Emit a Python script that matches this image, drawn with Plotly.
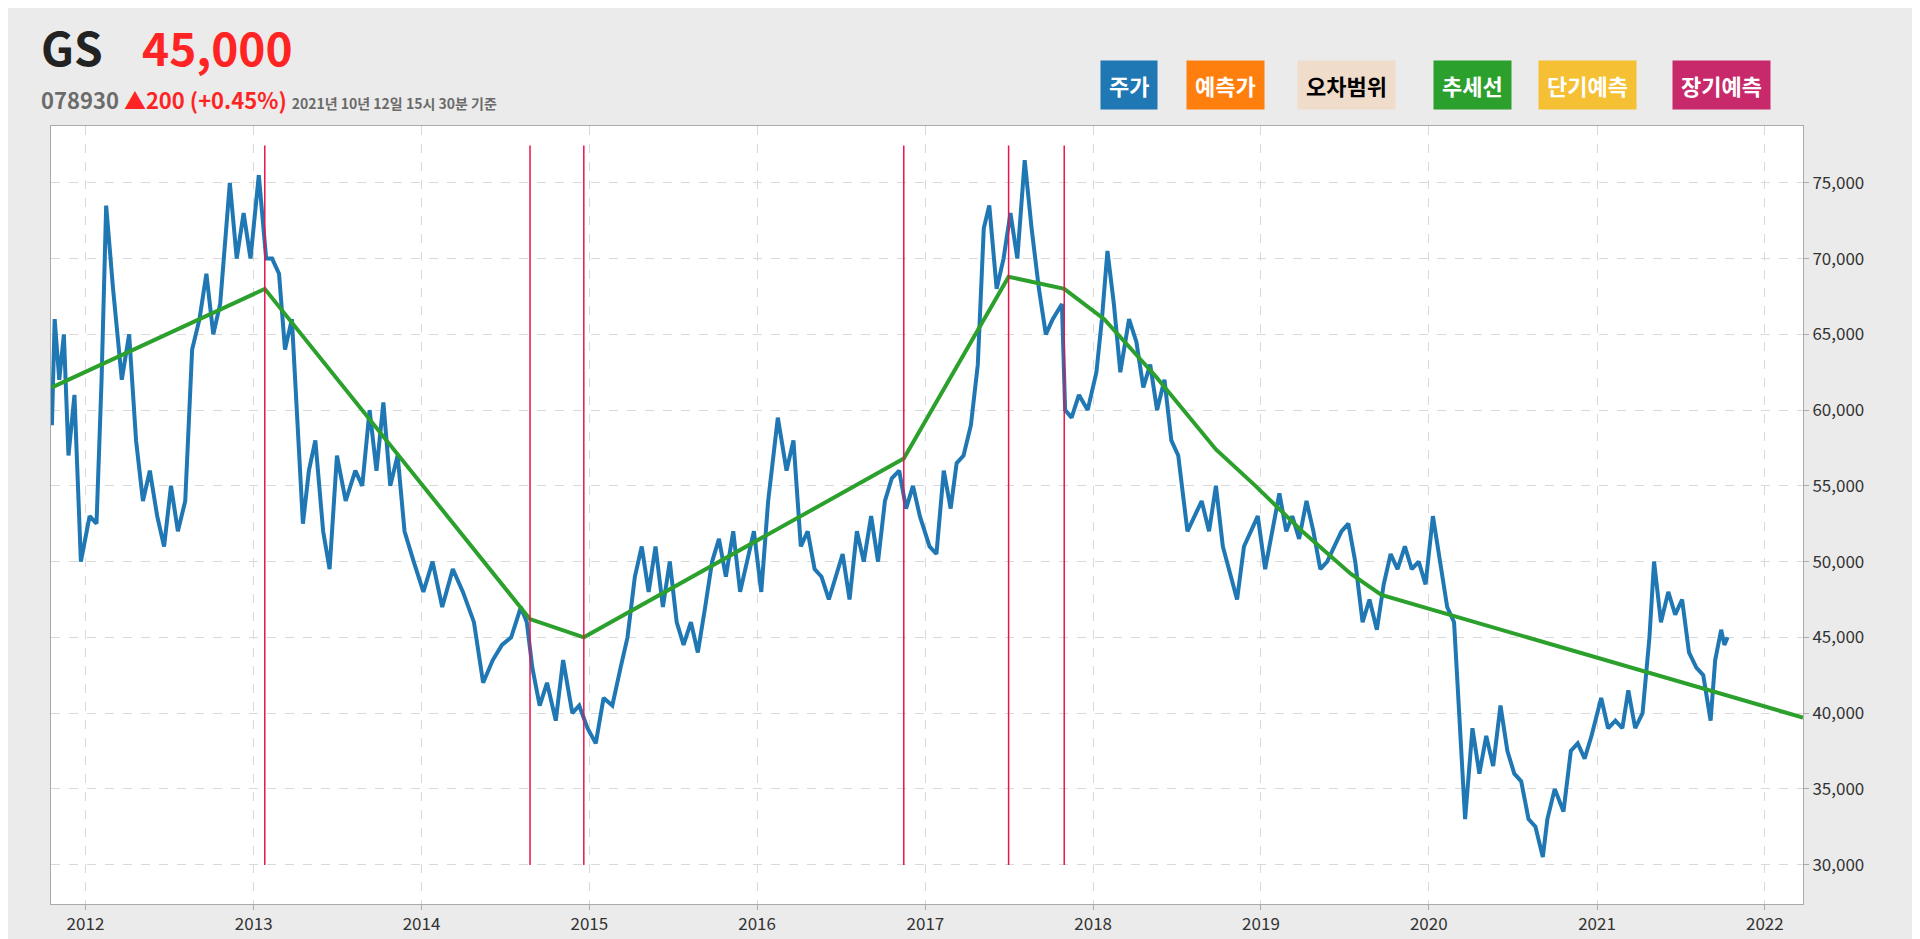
import plotly.graph_objects as go

# --- data ---
price_dates = [
    "2011-10-20", "2011-10-26", "2011-11-05", "2011-11-15", "2011-11-25", "2011-12-08", "2011-12-22",
    "2012-01-10", "2012-01-25", "2012-02-05", "2012-02-15", "2012-03-01", "2012-03-20", "2012-04-05",
    "2012-04-20", "2012-05-05", "2012-05-20", "2012-06-05", "2012-06-20", "2012-07-05", "2012-07-20",
    "2012-08-05", "2012-08-20", "2012-09-05", "2012-09-20", "2012-10-05", "2012-10-20", "2012-11-10",
    "2012-11-25", "2012-12-10", "2012-12-25", "2013-01-12", "2013-01-28", "2013-02-10", "2013-02-25",
    "2013-03-10", "2013-03-25", "2013-04-05", "2013-04-18", "2013-05-01", "2013-05-15", "2013-06-01",
    "2013-06-15", "2013-07-01", "2013-07-20", "2013-08-10", "2013-08-25", "2013-09-10", "2013-09-25",
    "2013-10-10", "2013-10-25", "2013-11-10", "2013-11-25", "2013-12-15", "2014-01-05", "2014-01-25",
    "2014-02-15", "2014-03-10", "2014-04-01", "2014-04-25", "2014-05-15", "2014-06-05", "2014-06-25",
    "2014-07-15", "2014-08-05", "2014-08-18", "2014-08-30", "2014-09-15", "2014-10-01", "2014-10-20",
    "2014-11-05", "2014-11-25", "2014-12-10", "2014-12-28", "2015-01-15", "2015-02-01", "2015-02-20",
    "2015-03-10", "2015-03-25", "2015-04-10", "2015-04-25", "2015-05-10", "2015-05-25", "2015-06-10",
    "2015-06-25", "2015-07-10", "2015-07-25", "2015-08-10", "2015-08-25", "2015-09-10", "2015-09-25",
    "2015-10-10", "2015-10-25", "2015-11-10", "2015-11-25", "2015-12-10", "2015-12-25", "2016-01-10",
    "2016-01-25", "2016-02-15", "2016-03-05", "2016-03-20", "2016-04-05", "2016-04-20", "2016-05-05",
    "2016-05-20", "2016-06-05", "2016-06-20", "2016-07-05", "2016-07-20", "2016-08-05", "2016-08-20",
    "2016-09-05", "2016-09-20", "2016-10-05", "2016-10-20", "2016-11-05", "2016-11-20", "2016-12-05",
    "2016-12-20", "2017-01-10", "2017-01-25", "2017-02-10", "2017-02-25", "2017-03-10", "2017-03-25",
    "2017-04-10", "2017-04-25", "2017-05-08", "2017-05-20", "2017-06-05", "2017-06-20", "2017-07-05",
    "2017-07-20", "2017-08-05", "2017-08-20", "2017-09-05", "2017-09-20", "2017-10-05", "2017-10-25",
    "2017-11-01", "2017-11-15", "2017-12-01", "2017-12-20", "2018-01-08", "2018-01-20", "2018-02-01",
    "2018-02-15", "2018-03-01", "2018-03-20", "2018-04-05", "2018-04-20", "2018-05-05", "2018-05-20",
    "2018-06-05", "2018-06-20", "2018-07-05", "2018-07-25", "2018-08-10", "2018-08-25", "2018-09-10",
    "2018-09-25", "2018-10-10", "2018-10-28", "2018-11-10", "2018-11-25", "2018-12-10", "2018-12-25",
    "2019-01-10", "2019-01-25", "2019-02-10", "2019-02-25", "2019-03-10", "2019-03-25", "2019-04-10",
    "2019-04-25", "2019-05-10", "2019-05-25", "2019-06-10", "2019-06-25", "2019-07-10", "2019-07-25",
    "2019-08-10", "2019-08-25", "2019-09-10", "2019-09-25", "2019-10-10", "2019-10-25", "2019-11-10",
    "2019-11-25", "2019-12-10", "2019-12-25", "2020-01-10", "2020-01-25", "2020-02-10", "2020-02-25",
    "2020-03-10", "2020-03-20", "2020-04-05", "2020-04-20", "2020-05-05", "2020-05-20", "2020-06-05",
    "2020-06-20", "2020-07-05", "2020-07-20", "2020-08-05", "2020-08-20", "2020-09-05", "2020-09-15",
    "2020-10-01", "2020-10-20", "2020-11-05", "2020-11-20", "2020-12-05", "2020-12-20", "2021-01-10",
    "2021-01-25", "2021-02-10", "2021-02-25", "2021-03-10", "2021-03-25", "2021-04-10", "2021-04-25",
    "2021-05-05", "2021-05-20", "2021-06-05", "2021-06-20", "2021-07-05", "2021-07-20", "2021-08-05",
    "2021-08-20", "2021-09-05", "2021-09-15", "2021-09-28", "2021-10-05", "2021-10-12",
]
price_values = [
    59000, 66000, 62000, 65000, 57000, 61000, 50000,
    53000, 52500, 62000, 73500, 68000, 62000, 65000,
    58000, 54000, 56000, 53000, 51000, 55000, 52000,
    54000, 64000, 66000, 69000, 65000, 67000, 75000,
    70000, 73000, 70000, 75500, 70000, 70000, 69000,
    64000, 66000, 60000, 52500, 56000, 58000, 52000,
    49500, 57000, 54000, 56000, 55000, 60000, 56000,
    60500, 55000, 57000, 52000, 50000, 48000, 50000,
    47000, 49500, 48000, 46000, 42000, 43500, 44500,
    45000, 47000, 46000, 43000, 40500, 42000, 39500,
    43500, 40000, 40500, 39000, 38000, 41000, 40500,
    43000, 45000, 49000, 51000, 48000, 51000, 47000,
    50000, 46000, 44500, 46000, 44000, 47000, 50000,
    51500, 49000, 52000, 48000, 50000, 52000, 48000,
    54000, 59500, 56000, 58000, 51000, 52000, 49500,
    49000, 47500, 49000, 50500, 47500, 52000, 50000,
    53000, 50000, 54000, 55500, 56000, 53500, 55000,
    53000, 51000, 50500, 56000, 53500, 56500, 57000,
    59000, 63000, 72000, 73500, 68000, 70000, 73000,
    70000, 76500, 72000, 68000, 65000, 66000, 67000,
    60000, 59500, 61000, 60000, 62500, 66000, 70500,
    67000, 62500, 66000, 64500, 61500, 63000, 60000,
    62000, 58000, 57000, 52000, 53000, 54000, 52000,
    55000, 51000, 49000, 47500, 51000, 52000, 53000,
    49500, 52000, 54500, 52000, 53000, 51500, 54000,
    52000, 49500, 50000, 51000, 52000, 52500, 50000,
    46000, 47500, 45500, 48500, 50500, 49500, 51000,
    49500, 50000, 48500, 53000, 50000, 47000, 46000,
    39000, 33000, 39000, 36000, 38500, 36500, 40500,
    37500, 36000, 35500, 33000, 32500, 30500, 33000,
    35000, 33500, 37500, 38000, 37000, 38500, 41000,
    39000, 39500, 39000, 41500, 39000, 40000, 45000,
    50000, 46000, 48000, 46500, 47500, 44000, 43000,
    42500, 39500, 43500, 45500, 44500, 45000,
]

trend_dates = [
    "2011-10-20", "2013-01-25", "2014-08-25", "2014-12-20", "2016-11-15", "2017-07-01",
    "2017-10-30", "2018-01-25", "2018-05-15", "2018-09-25", "2018-12-20", "2019-03-28",
    "2019-07-15", "2019-09-20", "2022-03-25",
]
trend_values = [
    61500, 68000, 46200, 45000, 56800, 68800,
    68000, 66000, 62300, 57400, 55000, 52100,
    49200, 47800, 39700,
]

change_dates = ["2013-01-25", "2014-08-25", "2014-12-20", "2016-11-15", "2017-07-01", "2017-10-30"]

legend_labels = ["주가", "예측가", "오차범위", "추세선", "단기예측", "장기예측"]
legend_colors = ["#1f77b4", "#ff7f0e", "#efdccb", "#2ca02c", "#f5c033", "#c8296b"]
legend_text_colors = ["white", "white", "black", "white", "white", "white"]

FONT = "Noto Sans CJK KR"

fig = go.Figure()
fig.add_trace(go.Scatter(x=price_dates, y=price_values, mode="lines",
                         line=dict(color="#1f77b4", width=4), name="주가"))
fig.add_trace(go.Scatter(x=trend_dates, y=trend_values, mode="lines",
                         line=dict(color="#2ca02c", width=4), name="추세선"))

for d in change_dates:
    fig.add_shape(type="line", x0=d, x1=d, xref="x", yref="paper", y0=0.05, y1=0.975,
                  line=dict(color="#e8144d", width=1.5))

# header text
fig.add_annotation(xref="paper", yref="paper", x=-0.007, y=1.058, xanchor="left", yanchor="bottom",
                   text="<b>GS</b>", showarrow=False, font=dict(family=FONT, size=46, color="#222"))
fig.add_annotation(xref="paper", yref="paper", x=0.051, y=1.058, xanchor="left", yanchor="bottom",
                   text="<b>45,000</b>", showarrow=False, font=dict(family=FONT, size=46, color="#ff2424"))
fig.add_annotation(xref="paper", yref="paper", x=-0.007, y=1.012, xanchor="left", yanchor="bottom",
                   text="<b><span style='color:#6b6b6b'>078930</span> <span style='color:#ff2424'>▲200 (+0.45%)</span></b>"
                        " <span style='font-size:14px;color:#6b6b6b'><b>2021년 10년 12일 15시 30분 기준</b></span>",
                   showarrow=False, font=dict(family=FONT, size=22))

# legend badges
badge_x = [0.599, 0.648, 0.711, 0.789, 0.849, 0.925]
for lbl, bg, fc, bx in zip(legend_labels, legend_colors, legend_text_colors, badge_x):
    fig.add_annotation(xref="paper", yref="paper", x=bx, y=1.02, xanchor="left", yanchor="bottom",
                       text="<b>" + lbl + "</b>", showarrow=False, bgcolor=bg, borderpad=8,
                       font=dict(family=FONT, size=22, color=fc))

fig.update_layout(
    width=1920, height=939,
    paper_bgcolor="#ebebeb", plot_bgcolor="white",
    margin=dict(l=43, r=125, t=118, b=40),
    showlegend=False,
    font=dict(family=FONT, size=17, color="#333"),
)
fig.update_xaxes(range=["2011-10-18", "2022-03-25"], dtick="M12", tickformat="%Y",
                 showgrid=True, gridcolor="#d9d9d9", griddash="dash",
                 showline=True, linecolor="#aaa", mirror=True, ticks="outside", ticklen=5,
                 tickcolor="#aaa")
fig.update_yaxes(side="right", range=[27400, 78750], dtick=5000, tickformat=",",
                 showgrid=True, gridcolor="#d9d9d9", griddash="dash",
                 showline=True, linecolor="#aaa", mirror=True, ticks="outside", ticklen=5,
                 tickcolor="#aaa", zeroline=False)

fig.write_html("out.html")
